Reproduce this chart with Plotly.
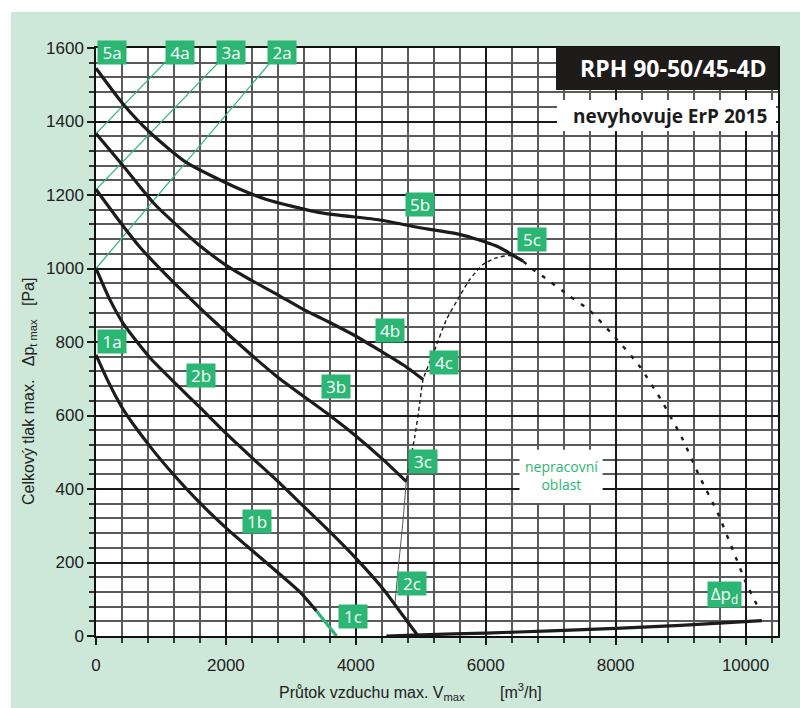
import plotly.graph_objects as go

# ---- data ----
c5_x = [0, 420, 831, 1395, 2113, 2626, 3446, 4369, 4985, 5600, 6164, 6574]
c5_y = [1545, 1447, 1370, 1288, 1224, 1188, 1152, 1132, 1111, 1093, 1061, 1020]
c4_x = [0, 420, 882, 1292, 1600, 2010, 2421, 2831, 3190, 3600, 4010, 4369, 4728, 5036]
c4_y = [1367, 1279, 1179, 1110, 1062, 1008, 965, 925, 889, 853, 815, 777, 738, 698]
c3_x = [0, 420, 677, 1292, 2010, 2779, 3600, 4010, 4421, 4779]
c3_y = [1215, 1115, 1058, 945, 825, 707, 600, 543, 480, 420]
c2_x = [0, 200, 420, 831, 1241, 1600, 2010, 2421, 2779, 3190, 3600, 4010, 4421, 4728, 4959]
c2_y = [1000, 920, 850, 757, 684, 622, 550, 482, 424, 354, 284, 210, 128, 55, 0]
c1_x = [0, 200, 420, 831, 1190, 1600, 2010, 2421, 2831, 3138, 3395]
c1_y = [765, 688, 616, 516, 440, 362, 293, 230, 168, 120, 68]
c1_end_x = [3395, 3703]
c1_end_y = [68, 0]

lim_lo_x = [4600, 4651, 4728, 4779]
lim_lo_y = [84, 180, 316, 425]
lim_hi_x = [4779, 4908, 4985, 5036, 5215, 5395, 5600, 5754, 5959, 6164, 6369, 6574]
lim_hi_y = [425, 543, 634, 698, 779, 861, 925, 970, 1011, 1029, 1035, 1020]
lim_r_x = [6574, 6728, 6908, 7267, 7600, 7985, 8369, 8728, 9036, 9292, 9574, 9805, 10010, 10215]
lim_r_y = [1020, 997, 975, 928, 886, 814, 734, 634, 534, 434, 334, 234, 144, 71]

dpd_x = [4470, 5000, 6000, 7000, 8000, 9000, 10250]
dpd_y = [0, 3, 8, 14, 21, 29, 42]

a4_x = [0, 1087]; a4_y = [1367, 1565]
a3_x = [0, 1882]; a3_y = [1215, 1560]
a2_x = [0, 2662]; a2_y = [1000, 1556]

x_ticks = [0, 2000, 4000, 6000, 8000, 10000]
x_ticktext = ["0", "2000", "4000", "6000", "8000", "10000"]
y_ticks = [0, 200, 400, 600, 800, 1000, 1200, 1400, 1600]

labels = ["5a", "4a", "3a", "2a", "1a", "2b", "3b", "4b", "5b", "1b",
          "1c", "2c", "3c", "4c", "5c"]
label_x = [246, 1292, 2077, 2862, 246, 1615, 3692, 4523, 4985, 2477,
           3954, 4862, 5031, 5354, 6708]
label_y = [1589, 1589, 1589, 1589, 801, 708, 678, 831, 1174, 311,
           52, 144, 474, 744, 1079]

GREEN = "#2bb673"
BG = "#cde7d8"
INK = "#1c1c1c"

fig = go.Figure()

def curve(x, y, color=INK, width=3.2, dash="solid", shape="spline"):
    fig.add_trace(go.Scatter(x=x, y=y, mode="lines",
                             line=dict(color=color, width=width, dash=dash,
                                       shape=shape, smoothing=0.6),
                             hoverinfo="skip", showlegend=False))

for ax, ay in [(a4_x, a4_y), (a3_x, a3_y), (a2_x, a2_y)]:
    curve(ax, ay, color=GREEN, width=1.2, shape="linear")

curve(lim_lo_x, lim_lo_y, color="#555", width=1)
curve(lim_hi_x, lim_hi_y, color=INK, width=1.4, dash="4px,3px")
curve(lim_r_x, lim_r_y, color=INK, width=2.4, dash="4px,8px")
curve(dpd_x, dpd_y, width=3.2)

curve(c5_x, c5_y)
curve(c4_x, c4_y)
curve(c3_x, c3_y)
curve(c2_x, c2_y)
curve(c1_x, c1_y)
curve(c1_end_x, c1_end_y, color=GREEN, width=3.2, shape="linear")

ann = []
for t, x, y in zip(labels, label_x, label_y):
    ann.append(dict(x=x, y=y, xref="x", yref="y", text=t, showarrow=False,
                    font=dict(family="Open Sans", size=17, color="white"),
                    bgcolor=GREEN, width=26, height=21, borderpad=1,
                    xanchor="center", yanchor="middle"))
ann.append(dict(x=9677, y=114, xref="x", yref="y", text="Δp<sub>d</sub>",
                showarrow=False, font=dict(family="Open Sans", size=17, color="white"),
                bgcolor=GREEN, width=31, height=23, borderpad=1,
                xanchor="center", yanchor="middle"))

# non-working region box
ann.append(dict(x=7160, y=437, xref="x", yref="y",
                text="nepracovní<br>oblast", showarrow=False,
                font=dict(family="Open Sans", size=14, color=GREEN),
                xanchor="center", yanchor="middle"))

L, R, T, B = 96, 22, 48, 72
PW, PH = 800 - L - R, 708 - T - B
def px(xp):
    return (xp - L) / PW
def py(yp):
    return (708 - B - yp) / PH

# title
ann.append(dict(x=px(769), y=py(68.5), xref="paper", yref="paper",
                text="<b>RPH 90-50/45-4D</b>", showarrow=False,
                font=dict(family="Open Sans", size=23, color="white"),
                xanchor="right", yanchor="middle"))
ann.append(dict(x=px(769), y=py(115.5), xref="paper", yref="paper",
                text="<b>nevyhovuje ErP 2015</b>", showarrow=False,
                font=dict(family="Open Sans", size=19, color=INK),
                xanchor="right", yanchor="middle"))

# axis titles
ann.append(dict(x=px(467), y=py(693), xref="paper", yref="paper",
                text="Průtok vzduchu max. V<sub>max</sub>", showarrow=False,
                font=dict(family="Liberation Sans", size=16, color="#222"),
                xanchor="right", yanchor="middle"))
ann.append(dict(x=px(498), y=py(691), xref="paper", yref="paper",
                text="[m<sup>3</sup>/h]", showarrow=False,
                font=dict(family="Liberation Sans", size=16, color="#222"),
                xanchor="left", yanchor="middle"))
ann.append(dict(x=px(29), y=py(392), xref="paper", yref="paper",
                text="Celkový tlak max.\u00a0\u00a0\u00a0Δp<sub>t max</sub>\u00a0\u00a0\u00a0[Pa]",
                showarrow=False, textangle=-90,
                font=dict(family="Liberation Sans", size=16, color="#222"),
                xanchor="center", yanchor="middle"))

shapes = [
    dict(type="rect", xref="paper", yref="paper", x0=px(0), x1=px(11), y0=py(708), y1=py(0),
         fillcolor="white", line=dict(width=0), layer="above"),
    dict(type="rect", xref="paper", yref="paper", x0=px(0), x1=px(800), y0=py(12), y1=py(0),
         fillcolor="white", line=dict(width=0), layer="above"),
    dict(type="rect", xref="paper", yref="paper", x0=px(556), x1=1, y0=py(90), y1=py(47),
         fillcolor="#1e1b1b", line=dict(width=0), layer="above"),
    dict(type="rect", xref="paper", yref="paper", x0=px(557), x1=px(776), y0=py(131), y1=py(100),
         fillcolor="white", line=dict(width=0), layer="above"),
    dict(type="rect", xref="x", yref="y", x0=6520, x1=7800, y0=362, y1=507,
         fillcolor="white", line=dict(width=0), layer="above"),
]

fig.update_layout(
    width=800, height=708,
    margin=dict(l=L, r=R, t=T, b=B, pad=0),
    paper_bgcolor=BG, plot_bgcolor="white",
    annotations=ann, shapes=shapes,
    showlegend=False,
)
fig.update_xaxes(range=[0, 10500], tickvals=x_ticks, ticktext=x_ticktext, showgrid=True,
                 gridcolor="#1a1a1a", gridwidth=1.5,
                 ticks="outside", ticklen=7, tickcolor="#1a1a1a", tickwidth=1.5,
                 minor=dict(dtick=400, tick0=0, showgrid=True, gridcolor="#5a5a5a",
                            gridwidth=1.5, ticks="outside", ticklen=5, tickcolor="#333"),
                 showline=True, linecolor="#111", linewidth=2, mirror=True,
                 tickfont=dict(family="Liberation Sans", size=17, color="#222"),
                 zeroline=False, ticklabelstandoff=6)
fig.update_yaxes(range=[0, 1600], tickvals=y_ticks, showgrid=True,
                 gridcolor="#1a1a1a", gridwidth=1.5,
                 ticks="outside", ticklen=7, tickcolor="#1a1a1a", tickwidth=1.5,
                 minor=dict(dtick=40, tick0=0, showgrid=True, gridcolor="#5a5a5a",
                            gridwidth=1.5, ticks="outside", ticklen=5, tickcolor="#333"),
                 showline=True, linecolor="#111", linewidth=1.5, mirror=True,
                 tickfont=dict(family="Liberation Sans", size=17, color="#222"),
                 zeroline=False)

fig.write_html("out.html", config={"displayModeBar": False},
               post_script="document.body.style.margin='0px';document.body.style.overflow='hidden';")
